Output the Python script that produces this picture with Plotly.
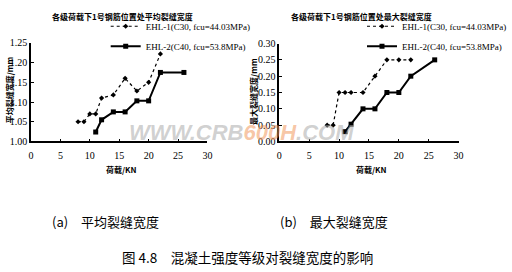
import plotly.graph_objects as go

# ---- data ----
load_a1 = [8, 9, 10, 11, 12, 14, 16, 18, 20, 22]
avg_a1 = [1.05, 1.05, 1.07, 1.07, 1.11, 1.118, 1.16, 1.128, 1.15, 1.222]
load_a2 = [11, 12, 14, 16, 18, 20, 22, 26]
avg_a2 = [1.024, 1.055, 1.075, 1.075, 1.103, 1.103, 1.175, 1.175]

load_b1 = [8, 9, 10, 11, 12, 14, 16, 18, 20, 22]
max_b1 = [0.05, 0.05, 0.15, 0.15, 0.15, 0.15, 0.20, 0.25, 0.25, 0.25]
load_b2 = [11, 12, 14, 16, 18, 20, 22, 26]
max_b2 = [0.03, 0.053, 0.10, 0.10, 0.15, 0.15, 0.20, 0.25]

name1 = "EHL-1(C30, fcu=44.03MPa)"
name2 = "EHL-2(C40, fcu=53.8MPa)"

x_ticks = [0, 5, 10, 15, 20, 25, 30]
ya_ticks = [1.00, 1.05, 1.10, 1.15, 1.20, 1.25]
ya_text = ["1.00", "1.05", "1.10", "1.15", "1.20", "1.25"]
yb_ticks = [0.00, 0.05, 0.10, 0.15, 0.20, 0.25, 0.30]
yb_text = ["0.00", "0.05", "0.10", "0.15", "0.20", "0.25", "0.30"]

W, H = 512, 272
def px(x): return x / W
def py(y): return 1 - y / H

cjk = "Noto Sans CJK SC"
serif = "Liberation Serif"

fig = go.Figure()
style1 = dict(mode="lines+markers", line=dict(color="black", width=1.2, dash="dot"),
              marker=dict(symbol="diamond", size=4, color="black"), cliponaxis=False)
style2 = dict(mode="lines+markers", line=dict(color="black", width=2),
              marker=dict(symbol="square", size=5, color="black"), cliponaxis=False)

fig.add_trace(go.Scatter(x=load_a1, y=avg_a1, name=name1, xaxis="x", yaxis="y", legend="legend",
                         legendgroup="a1", **style1))
fig.add_trace(go.Scatter(x=load_a2, y=avg_a2, name=name2, xaxis="x", yaxis="y", legend="legend",
                         legendgroup="a2", **style2))
fig.add_trace(go.Scatter(x=load_b1, y=max_b1, name=name1, xaxis="x2", yaxis="y2", legend="legend2",
                         legendgroup="b1", **style1))
fig.add_trace(go.Scatter(x=load_b2, y=max_b2, name=name2, xaxis="x2", yaxis="y2", legend="legend2",
                         legendgroup="b2", **style2))

ax_common = dict(showgrid=False, zeroline=False, showline=True, linecolor="black", linewidth=1.5,
                 ticks="inside", ticklen=3, tickcolor="black",
                 tickfont=dict(family=serif, size=10, color="black"))

leg_common = dict(xanchor="left", yanchor="top", bgcolor="rgba(0,0,0,0)",
                  font=dict(family=serif, size=9, color="black"), itemwidth=30,
                  traceorder="grouped", tracegroupgap=1)

fig.update_layout(
    width=W, height=H, margin=dict(l=0, r=0, t=0, b=0),
    paper_bgcolor="white", plot_bgcolor="white",
    xaxis=dict(domain=[px(30), px(219)], range=[0, 30], tickvals=x_ticks, anchor="y",
               ticklabelstandoff=4, **ax_common),
    yaxis=dict(domain=[py(141.7), py(39.3)], range=[1.0, 1.25], tickvals=ya_ticks, ticktext=ya_text,
               anchor="x", **ax_common),
    xaxis2=dict(domain=[px(296), px(488)], range=[0, 30], tickvals=x_ticks, anchor="y2",
                ticklabelstandoff=4, **ax_common),
    yaxis2=dict(domain=[py(141.7), py(40)], range=[0, 0.30], tickvals=yb_ticks, ticktext=yb_text,
                anchor="x2", **ax_common),
    legend=dict(x=px(110), y=py(7), **leg_common),
    legend2=dict(x=px(385), y=py(7), **leg_common),
    showlegend=True,
)

ann = []
def text(x, y, s, size, family=cjk, angle=0, color="black", xanchor="center"):
    ann.append(dict(x=px(x), y=py(y), xref="paper", yref="paper", text=s, showarrow=False,
                    font=dict(family=family, size=size, color=color), textangle=angle,
                    xanchor=xanchor, yanchor="middle"))

text(128, 12, "<b>各级荷载下1号钢筋位置处平均裂缝宽度</b>", 8)
text(384, 12, "<b>各级荷载下1号钢筋位置处最大裂缝宽度</b>", 8)
text(7, 88, "<b>平均裂缝宽度/mm</b>", 8, angle=-90)
text(268, 90, "<b>最大裂缝宽度/mm</b>", 8, angle=-90)
text(127, 171, "<b>荷载/KN</b>", 8)
text(395, 171, "<b>荷载/KN</b>", 8)
text(50, 225, "(a)　平均裂缝宽度", 13, xanchor="left")
text(295, 225, "(b)　最大裂缝宽度", 13, xanchor="left")
text(262, 262, "图 4.8　混凝土强度等级对裂缝宽度的影响", 13.5)
ann.append(dict(x=px(255), y=py(132), xref="paper", yref="paper", showarrow=False,
                text="<b><i><span style='color:rgba(170,170,170,0.55)'>WWW.CRB</span>"
                     "<span style='color:rgba(240,150,90,0.55)'>600H</span>"
                     "<span style='color:rgba(170,170,170,0.55)'>.COM</span></i></b>",
                font=dict(family="Liberation Sans", size=22), xanchor="center", yanchor="middle"))
fig.update_layout(annotations=ann)

fig.write_html("out.html")
